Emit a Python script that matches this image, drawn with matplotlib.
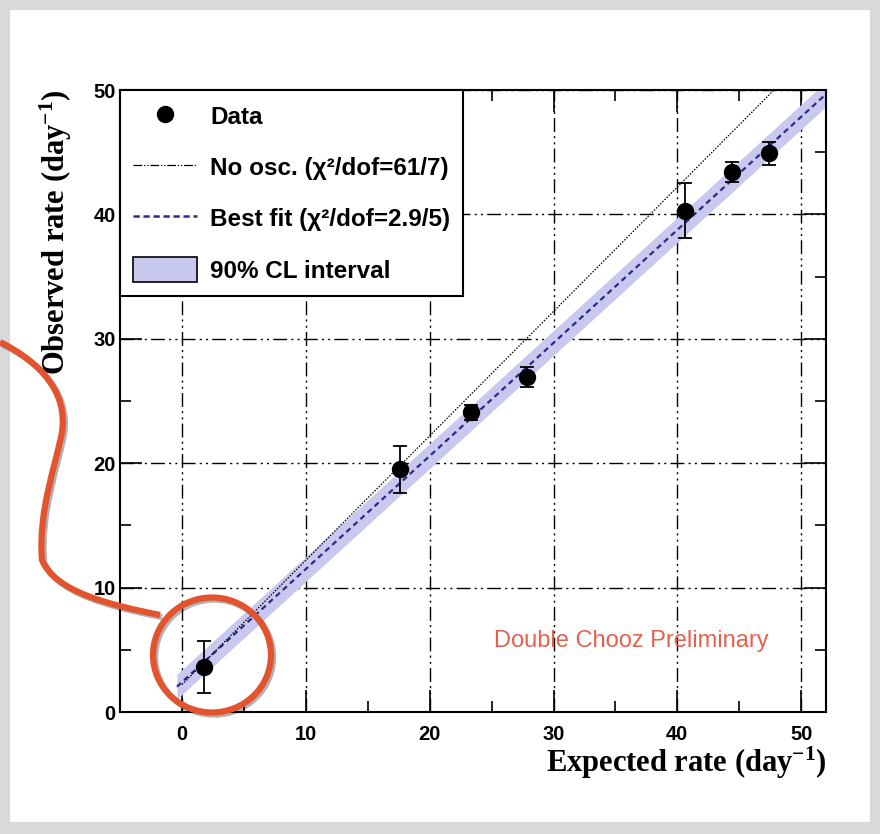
import numpy as np
import matplotlib
matplotlib.use("Agg")
import matplotlib.pyplot as plt
from matplotlib.patches import Ellipse, Rectangle, Patch
from matplotlib.lines import Line2D
from matplotlib.path import Path
from matplotlib.patches import PathPatch
import matplotlib.patheffects as pe

# data
expected = [1.8, 17.6, 23.3, 27.9, 40.6, 44.4, 47.4]
observed = [3.6, 19.5, 24.1, 26.9, 40.3, 43.4, 44.9]
obs_err = [2.1, 1.9, 0.6, 0.8, 2.2, 0.8, 0.9]

# lines: no oscillation and best fit (background + slope)
noosc_bkg, noosc_slope = 2.2, 1.0
fit_bkg, fit_slope = 2.4, 0.909
band_half = 1.0

sans = "Liberation Sans"
serif = "Liberation Serif"
plt.rcParams["mathtext.fontset"] = "custom"
plt.rcParams["mathtext.rm"] = "Liberation Serif:bold"
plt.rcParams["mathtext.bf"] = "Liberation Serif:bold"
plt.rcParams["mathtext.it"] = "Liberation Serif:bold"

fig = plt.figure(figsize=(8.8, 8.34), dpi=100)
fig.patch.set_facecolor("#d9d9d9")
fig.patches.append(Rectangle((10 / 880, 1 - 822 / 834), 860 / 880, 812 / 834,
                             transform=fig.transFigure, facecolor="white",
                             edgecolor="none", zorder=-5))

ax = fig.add_axes([120 / 880, 1 - 712 / 834, 706 / 880, 622 / 834])
ax.set_zorder(1)
ax.set_xlim(-5, 52)
ax.set_ylim(0, 50)

grid_ls = (0, (10, 3, 1.5, 3, 1.5, 3))
ax.set_xticks(np.arange(0, 51, 10))
ax.set_yticks(np.arange(0, 51, 10))
ax.set_xticks(np.arange(-5, 52, 5), minor=True)
ax.set_yticks(np.arange(0, 51, 5), minor=True)
ax.grid(True, which="major", color="black", linestyle=grid_ls, linewidth=1.0)
ax.tick_params(which="both", direction="in", top=True, right=True, width=1.2)
ax.tick_params(which="major", length=16, labelsize=14.5)
ax.tick_params(axis="x", which="major", pad=9)
ax.tick_params(axis="y", which="major", pad=3)
ax.tick_params(which="minor", length=8)
for lab in ax.get_xticklabels() + ax.get_yticklabels():
    lab.set_fontfamily(sans)
    lab.set_fontweight("bold")
for s in ax.spines.values():
    s.set_linewidth(1.5)

xs = np.linspace(-0.4, 52, 200)
fit = fit_bkg + fit_slope * xs
ax.fill_between(xs, fit - band_half, fit + band_half, color="#c9c8ef", lw=0, zorder=2)
ax.plot(xs, fit, color="#2b2b8c", linestyle=(0, (2.5, 1.8)), lw=1.6, zorder=3)
xn = np.linspace(0, 52, 200)
ax.plot(xn, noosc_bkg + noosc_slope * xn, color="black",
        linestyle=(0, (1.2, 1.2)), lw=0.9, zorder=3)
ax.errorbar(expected, observed, yerr=obs_err, fmt="o", color="black", ms=11.5,
            capsize=5, elinewidth=1.3, capthick=1.3, zorder=5)

ax.text(36.3, 5.7, "Double Chooz Preliminary", color="#e0503c", fontsize=17,
        family=sans, ha="center", va="center", alpha=0.9)

ax.set_xlabel("Expected rate (day$^{-1}$)", family=serif, fontweight="bold",
              fontsize=22, loc="right", labelpad=1)
ax.set_ylabel("Observed rate (day$^{-1}$)", family=serif, fontweight="bold",
              fontsize=22, loc="top", labelpad=14)

handles = [
    Line2D([], [], marker="o", color="black", ls="none", ms=11.5),
    Line2D([], [], color="black", ls=(0, (7, 1.5, 1, 1.5, 1, 1.5)), lw=0.9),
    Line2D([], [], color="#2b2b8c", ls=(0, (2.5, 1.5)), lw=1.8),
    Patch(facecolor="#c9c8ef", edgecolor="black", lw=1.2),
]
labels = ["Data", "No osc. (χ²/dof=61/7)", "Best fit (χ²/dof=2.9/5)", "90% CL interval"]
leg = ax.legend(handles, labels, loc="upper left", bbox_to_anchor=(0.0, 1.0),
                prop={"family": sans, "weight": "bold", "size": 17.5},
                frameon=True, fancybox=False, edgecolor="black", framealpha=1,
                borderpad=0.55, labelspacing=1.05, handlelength=2.6,
                handleheight=1.2, handletextpad=0.55, borderaxespad=0)
leg.get_frame().set_linewidth(1.5)
leg.set_zorder(6)

# red annotation drawn on the slide
red = "#e2532e"
shadow = [pe.SimpleLineShadow(offset=(1.5, -1.5), alpha=0.3), pe.Normal()]
circ = Ellipse((212, 834 - 655), 118, 115, transform=None, fill=False,
               edgecolor=red, lw=4.5, zorder=7, clip_on=False)
circ.set_path_effects(shadow)
verts = [(0, 342), (40, 362), (68, 392), (62, 432), (56, 465), (38, 510),
         (42, 560), (55, 592), (110, 605), (160, 615)]
codes = [Path.MOVETO] + [Path.CURVE4] * 9
path = Path([(x, 834 - y) for x, y in verts], codes)
curve = PathPatch(path, transform=None, fill=False, edgecolor=red, lw=4.5,
                  zorder=7, clip_on=False)
curve.set_path_effects(shadow)
ax.add_artist(circ)
ax.add_artist(curve)

fig.savefig("out.png", dpi=100, facecolor=fig.get_facecolor())
